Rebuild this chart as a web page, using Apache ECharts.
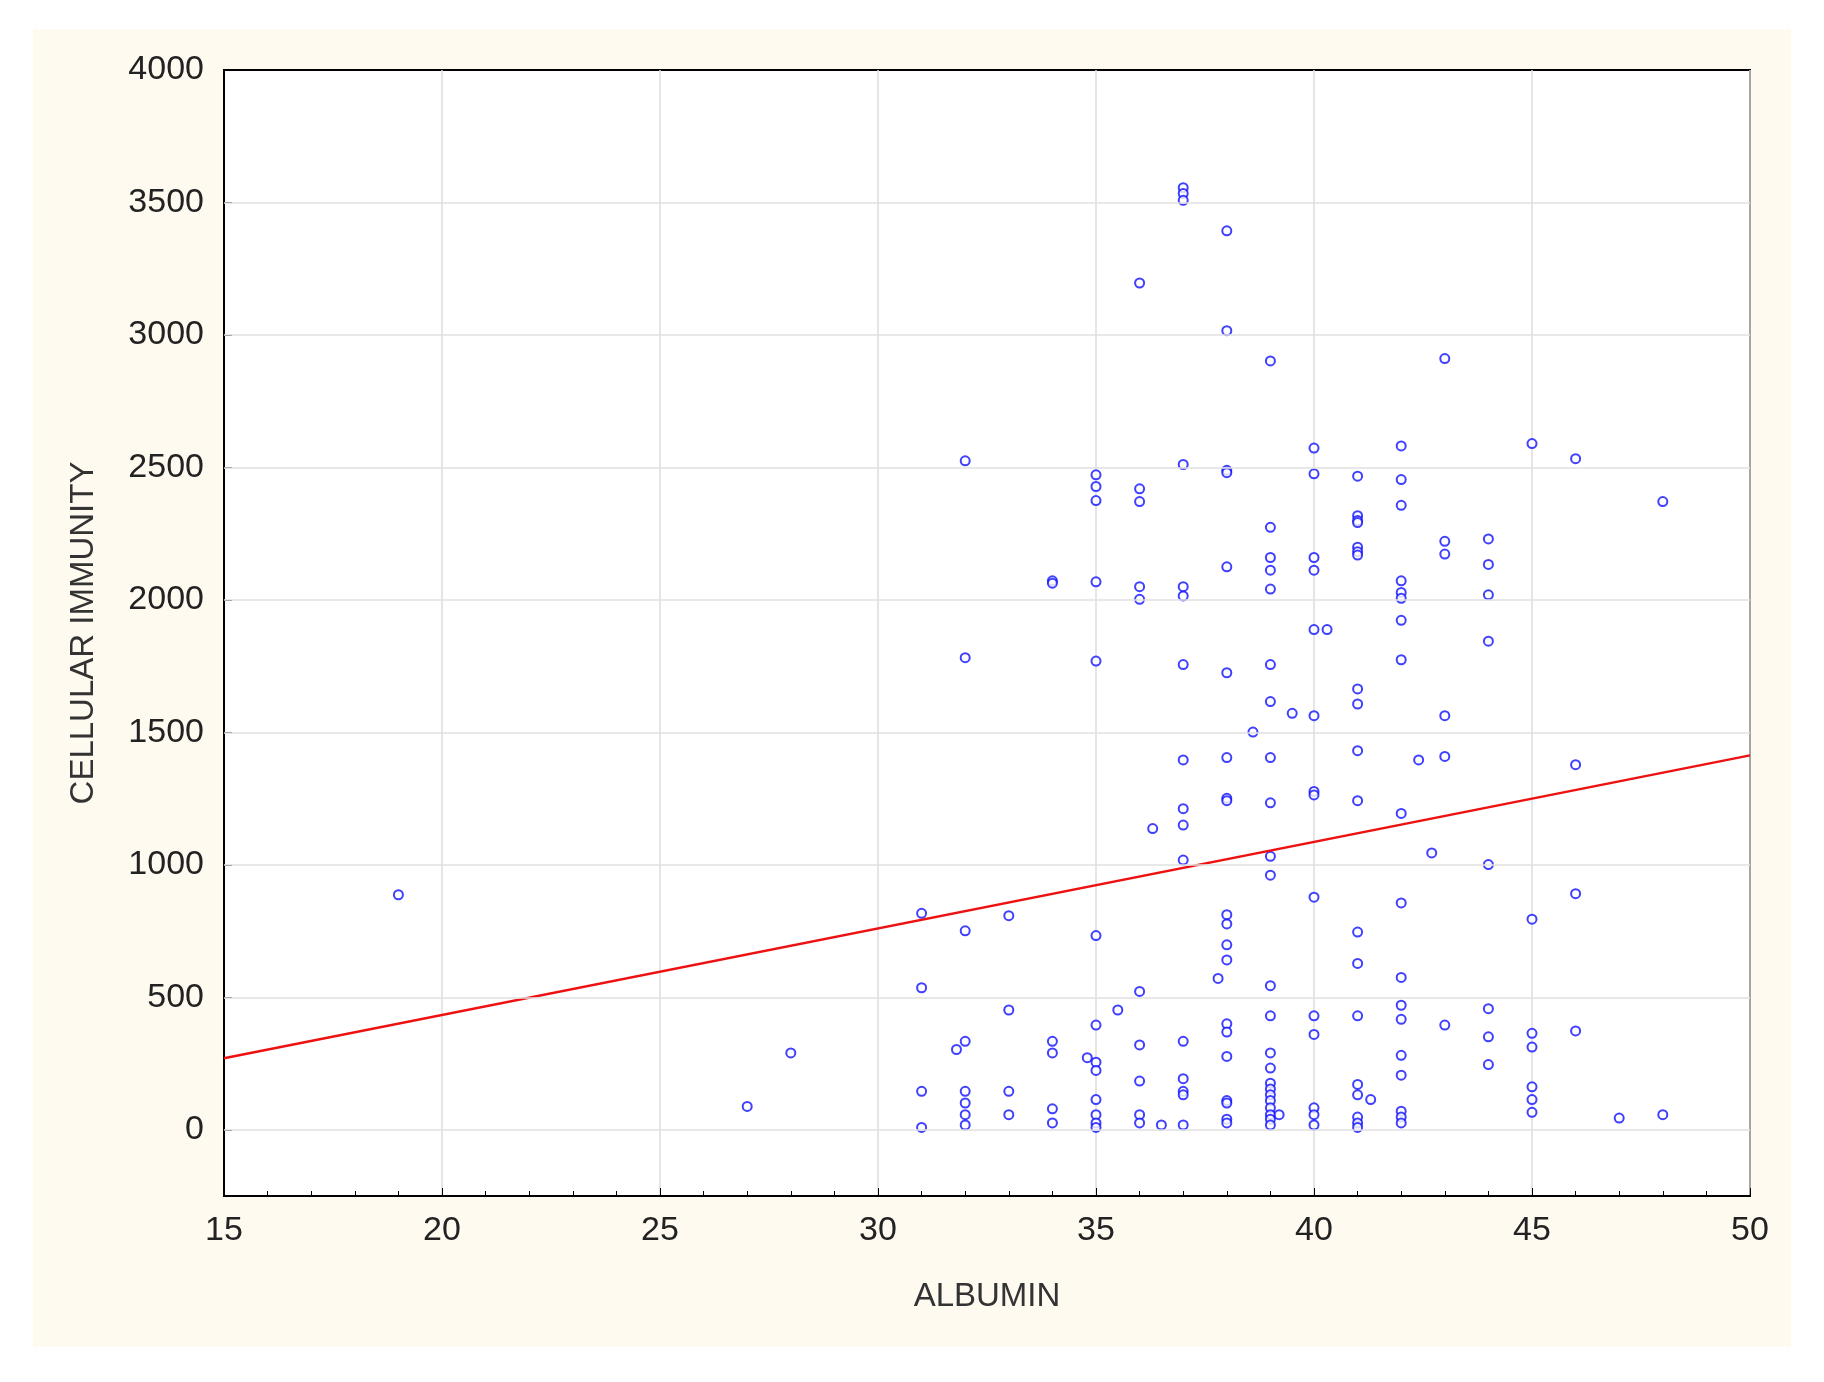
<!DOCTYPE html>
<html>
<head>
<meta charset="utf-8">
<script src="https://cdn.jsdelivr.net/npm/echarts@6/dist/echarts.min.js"></script>
<style>
  body { margin: 0; background: #ffffff; }
  #bg { position: absolute; left: 33px; top: 29px; width: 1758px; height: 1318px; background: #fffaf0; }
  #chart { position: absolute; left: 0; top: 0; width: 1824px; height: 1382px; }
</style>
</head>
<body>
<div id="bg"></div>
<div id="chart"></div>
<script>
// albumin value -> list of cellular immunity values
const albumin = [19, 27, 28, 31, 31.8, 32, 33, 34, 34.8, 35, 35.5, 36, 36.3, 36.5, 37, 37.8, 38, 38.6, 39, 39.2, 39.5, 40, 40.3, 41, 41.3, 42, 42.4, 42.7, 43, 44, 45, 46, 47, 48];
const immunity = [
  [887],
  [88],
  [290],
  [817, 536, 145, 9],
  [303],
  [2525, 1782, 751, 334, 145, 101, 57, 18],
  [808, 452, 145, 57],
  [2072, 2063, 334, 290, 79, 26],
  [272],
  [2472, 2428, 2375, 2068, 1769, 733, 395, 255, 224, 114, 57, 26, 9],
  [452],
  [3196, 2419, 2371, 2050, 2002, 522, 320, 184, 57, 26],
  [1137],
  [18],
  [3556, 3534, 3508, 2511, 2050, 2015, 1756, 1396, 1212, 1150, 1018, 334, 193, 145, 132, 18],
  [571],
  [3393, 3016, 2489, 2480, 2125, 1725, 1405, 1251, 1242, 812, 777, 698, 641, 400, 369, 277, 110, 101, 40, 26],
  [1501],
  [2902, 2274, 2160, 2112, 2041, 1756, 1616, 1405, 1234, 1032, 961, 544, 430, 290, 233, 176, 154, 132, 110, 83, 57, 40, 18],
  [57],
  [1572],
  [2573, 2476, 2160, 2112, 1888, 1563, 1277, 1264, 878, 430, 360, 83, 57, 18],
  [1888],
  [2467, 2318, 2300, 2292, 2199, 2182, 2169, 1664, 1607, 1431, 1242, 746, 628, 430, 171, 132, 48, 26, 9],
  [114],
  [2581, 2454, 2357, 2072, 2028, 2006, 1923, 1774, 1194, 856, 575, 470, 417, 281, 206, 70, 48, 26],
  [1396],
  [1045],
  [2911, 2221, 2173, 1563, 1409, 395],
  [2230, 2134, 2019, 1844, 1001, 457, 351, 246],
  [2590, 795, 364, 312, 162, 114, 66],
  [2533, 1378, 891, 373],
  [44],
  [2371, 57]
];
const yTicks = [0, 500, 1000, 1500, 2000, 2500, 3000, 3500, 4000];
const fitX = [15, 50];
const fitY = [270, 1413];

const points = [];
albumin.forEach((a, i) => immunity[i].forEach(v => points.push([a, v])));

const chart = echarts.init(document.getElementById('chart'));
const font = 'Liberation Sans, Arial, sans-serif';
chart.setOption({
  animation: false,
  grid: {
    left: 224, right: 74, top: 70, bottom: 186,
    show: true, backgroundColor: '#ffffff', borderColor: '#000', borderWidth: 2
  },
  xAxis: {
    type: 'value', min: 15, max: 50, interval: 5,
    name: 'ALBUMIN', nameLocation: 'middle', nameGap: 84,
    nameTextStyle: { fontFamily: font, fontSize: 33, color: '#333' },
    axisLine: { onZero: false, lineStyle: { color: '#000', width: 2 } },
    axisTick: { inside: true, length: 8, lineStyle: { color: '#000' } },
    minorTick: { show: true, splitNumber: 5, length: 5, lineStyle: { color: '#000' } },
    axisLabel: { fontFamily: font, fontSize: 34, color: '#222', margin: 18 },
    splitLine: { lineStyle: { color: '#dddddd', width: 1.5 } }
  },
  yAxis: {
    type: 'value', min: -250, max: 4000,
    name: 'CELLULAR IMMUNITY', nameLocation: 'middle', nameGap: 124, nameRotate: 90,
    nameTextStyle: { fontFamily: font, fontSize: 33, color: '#333' },
    axisLine: { onZero: false, lineStyle: { color: '#000', width: 2 } },
    axisTick: { inside: true, length: 8, lineStyle: { color: '#000' }, customValues: yTicks },
    axisLabel: { fontFamily: font, fontSize: 34, color: '#222', margin: 20,
      customValues: yTicks, formatter: v => String(v) },
    splitLine: { show: false }
  },
  series: [
    {
      type: 'line', data: [], silent: true,
      markLine: {
        silent: true, symbol: 'none', label: { show: false },
        lineStyle: { color: '#e0e0e0', width: 1.5, type: 'solid' },
        data: yTicks.slice(0, -1).map(v => ({ yAxis: v }))
      }
    },
    {
      type: 'scatter', data: points, symbol: 'emptyCircle', symbolSize: 9,
      itemStyle: { color: '#1010ff', borderColor: '#1010ff', borderWidth: 2.6 }
    },
    {
      type: 'line', data: fitX.map((x, i) => [x, fitY[i]]), symbol: 'none',
      lineStyle: { color: '#ee1111', width: 2.4 }
    }
  ]
});
</script>
</body>
</html>
